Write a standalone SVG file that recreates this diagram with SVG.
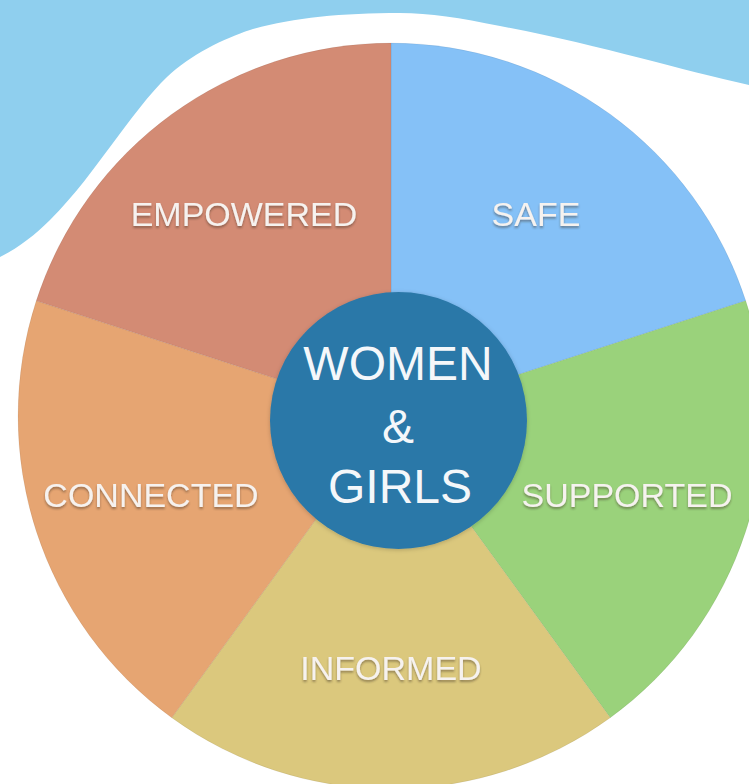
<svg xmlns="http://www.w3.org/2000/svg" width="749" height="784" viewBox="0 0 749 784">
<defs>
<style>
.lbl{font-family:"Liberation Sans","Helvetica Neue",Arial,sans-serif;font-size:34px;fill:#f6f2ef;text-anchor:middle;filter:url(#ts);}
.ctr{font-family:"Liberation Sans","Helvetica Neue",Arial,sans-serif;font-size:48px;fill:#f4f7fa;text-anchor:middle;}
.slice{stroke:rgba(0,0,0,0.06);stroke-width:1;}
</style>
<filter id="ts" x="-10%" y="-30%" width="120%" height="170%">
<feDropShadow dx="0" dy="2" stdDeviation="1.3" flood-color="#3a2a20" flood-opacity="0.45"/>
</filter>
<filter id="cs" x="-10%" y="-10%" width="120%" height="120%">
<feDropShadow dx="0" dy="1" stdDeviation="2" flood-color="#000" flood-opacity="0.2"/>
</filter>
</defs>
<rect width="749" height="784" fill="#ffffff"/>
<path id="blob" fill="#8fcfee" d="M0,0 L749,0 L749,85 C680,70 600,45 500,26 C460,18 430,13 400,13 C340,13 290,18 250,30 C225,38 190,55 167,77 C150,93 130,120 110,147 C95,167 75,195 50,220 C35,235 18,248 0,257 Z"/>
<g id="safe">
<path class="slice" fill="#85c1f7" d="M391,416 L391,43 A373,373 0 0 1 745.75,300.74 Z"/>
<text class="lbl" x="536" y="226">SAFE</text>
</g>
<g id="supported">
<path class="slice" fill="#9ad27b" d="M391,416 L745.75,300.74 A373,373 0 0 1 610.24,717.76 Z"/>
<text class="lbl" x="627" y="507">SUPPORTED</text>
</g>
<g id="informed">
<path class="slice" fill="#dbc87d" d="M391,416 L610.24,717.76 A373,373 0 0 1 171.76,717.76 Z"/>
<text class="lbl" x="391" y="680">INFORMED</text>
</g>
<g id="connected">
<path class="slice" fill="#e6a572" d="M391,416 L171.76,717.76 A373,373 0 0 1 36.25,300.74 Z"/>
<text class="lbl" x="151" y="507">CONNECTED</text>
</g>
<g id="empowered">
<path class="slice" fill="#d38b74" d="M391,416 L36.25,300.74 A373,373 0 0 1 391,43 Z"/>
<text class="lbl" x="244" y="226">EMPOWERED</text>
</g>
<g id="center">
<circle cx="398.5" cy="420.5" r="128.5" fill="#2c78a8" filter="url(#cs)"/>
<text class="ctr" x="398" y="380">WOMEN</text>
<text class="ctr" x="398" y="443">&amp;</text>
<text class="ctr" x="400" y="503">GIRLS</text>
</g>
</svg>
